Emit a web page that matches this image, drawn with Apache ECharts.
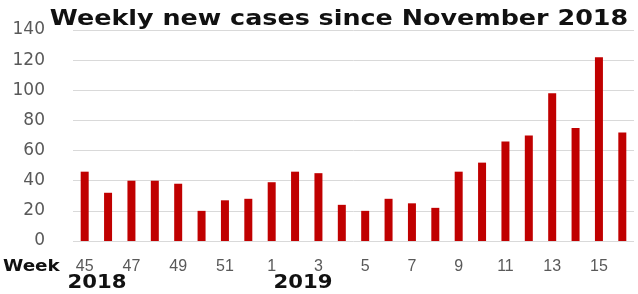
<!DOCTYPE html>
<html><head><meta charset="utf-8">
<script src="https://cdn.jsdelivr.net/npm/echarts@6/dist/echarts.min.js"></script>
<style>html,body{margin:0;padding:0;background:#fff}#c{width:638px;height:294px}</style>
</head><body><div id="c"></div>
<script>
const weeks = ['45','46','47','48','49','50','51','52','1','2','3','4','5','6','7','8','9','10','11','12','13','14','15','16'];
const cases = [46,32,40,40,38,20,27,28,39,46,45,24,20,28,25,22,46,52,66,70,98,75,122,72];
const yTicks = [0,20,40,60,80,100,120,140];
const titleText = 'Weekly new cases since November 2018';
const weekLabel = 'Week';
const yearLabels = ['2018','2019'];

const chart = echarts.init(document.getElementById('c'));
chart.setOption({
  animation:false,
  grid:{left:73,right:4,top:30,bottom:53},
  xAxis:{type:'category',data:weeks,
    axisLine:{show:false},axisTick:{show:false},
    axisLabel:{interval:1,margin:18,fontFamily:'Liberation Sans',fontSize:16,color:'#595959'}},
  yAxis:{type:'value',min:yTicks[0],max:yTicks[yTicks.length-1],interval:20,
    axisLine:{show:false},axisTick:{show:false},
    splitLine:{lineStyle:{color:'#d9d9d9',width:1}},
    axisLabel:{margin:28,fontFamily:'DejaVu Sans',fontSize:17,color:'#595959'}},
  series:[{type:'bar',data:cases,barWidth:8,itemStyle:{color:'#C00000'}}],
  graphic:[
    {type:'text',x:339,y:20,scaleX:1.21,originX:0,originY:0,
      style:{text:titleText,font:'bold 21px "DejaVu Sans"',fill:'#111',align:'center',verticalAlign:'middle'}},
    {type:'text',x:3,y:267,scaleX:1.15,originX:0,originY:0,
      style:{text:weekLabel,font:'bold 16px "DejaVu Sans"',fill:'#111',align:'left',verticalAlign:'middle'}},
    {type:'text',x:97,y:283,scaleX:1.06,originX:0,originY:0,style:{text:yearLabels[0],font:'bold 20px "DejaVu Sans"',fill:'#111',align:'center',verticalAlign:'middle'}},
    {type:'text',x:303,y:283,scaleX:1.06,originX:0,originY:0,style:{text:yearLabels[1],font:'bold 20px "DejaVu Sans"',fill:'#111',align:'center',verticalAlign:'middle'}}
  ]
});
</script></body></html>
